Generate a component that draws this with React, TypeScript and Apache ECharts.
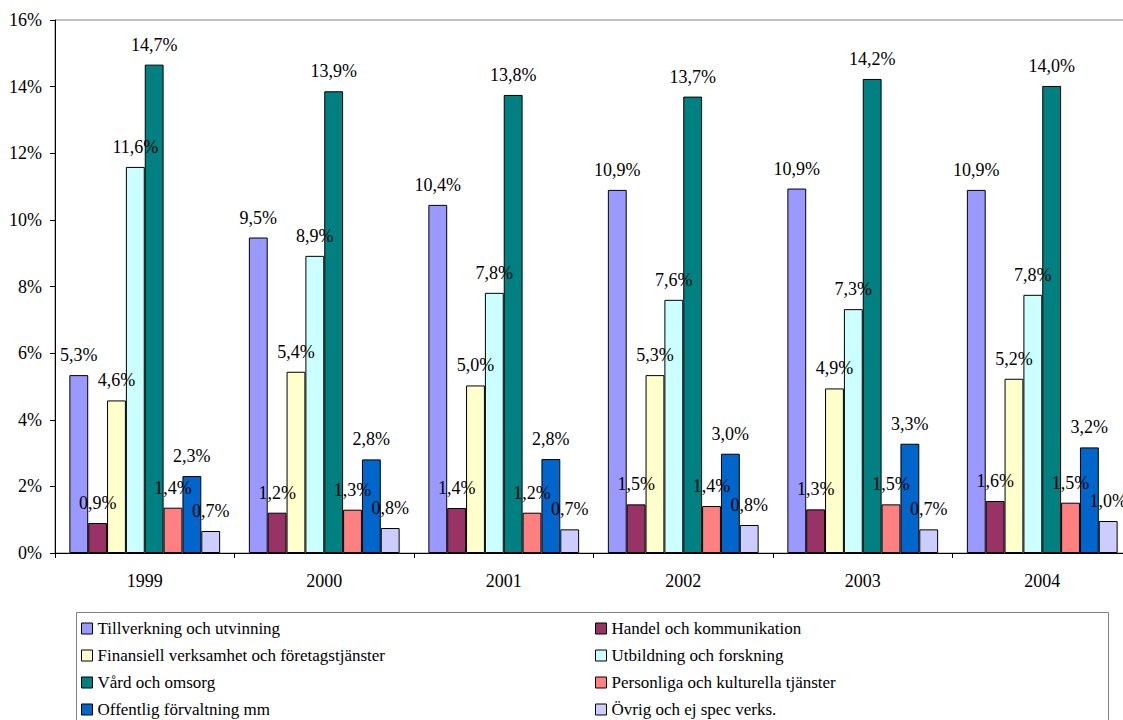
import React, { useEffect, useRef } from "react";
import * as echarts from "echarts";

const years = ["1999", "2000", "2001", "2002", "2003", "2004"];
const seriesNames = [
  "Tillverkning och utvinning",
  "Handel och kommunikation",
  "Finansiell verksamhet och företagstjänster",
  "Utbildning och forskning",
  "Vård och omsorg",
  "Personliga och kulturella tjänster",
  "Offentlig förvaltning mm",
  "Övrig och ej spec verks.",
];
const colors = ["#9999FF", "#993366", "#FFFFCC", "#CCFFFF", "#008080", "#FF8080", "#0066CC", "#CCCCFF"];

const tillverkning = [5.34, 9.47, 10.45, 10.9, 10.94, 10.9];
const handel = [0.9, 1.21, 1.35, 1.46, 1.31, 1.56];
const finansiell = [4.58, 5.44, 5.03, 5.34, 4.94, 5.23];
const utbildning = [11.59, 8.92, 7.81, 7.6, 7.32, 7.75];
const vard = [14.66, 13.86, 13.75, 13.7, 14.23, 14.02];
const personliga = [1.36, 1.3, 1.21, 1.41, 1.46, 1.51];
const offentlig = [2.31, 2.81, 2.82, 2.98, 3.28, 3.17];
const ovrig = [0.66, 0.75, 0.71, 0.84, 0.71, 0.96];

const seriesValues = [tillverkning, handel, finansiell, utbildning, vard, personliga, offentlig, ovrig];
const yTicks = [0, 2, 4, 6, 8, 10, 12, 14, 16];

const FONT = "Liberation Serif";
const FONT_CSS = ".chart-root svg text, .chart-root svg tspan { font-family: 'Liberation Serif', serif !important; }";

export default function App() {
  const ref = useRef<HTMLDivElement>(null);
  useEffect(() => {
    if (!ref.current) return;
    const chart = echarts.init(ref.current, undefined, { renderer: "svg" });
    const legendCommon = {
      orient: "vertical",
      top: 620,
      height: 140,
      padding: 0,
      itemWidth: 11,
      itemHeight: 11,
      itemGap: 10,
      icon: "rect",
      selectedMode: false,
      itemStyle: { borderColor: "#000", borderWidth: 1 },
      textStyle: { fontFamily: FONT, fontSize: 17, color: "#000", lineHeight: 17 },
    };
    const option = {
      animation: false,
      backgroundColor: "#fff",
      textStyle: { fontFamily: FONT },
      grid: {
        left: 55,
        top: 20,
        bottom: 167,
        right: -9,
        outerBoundsMode: "none",
        containLabel: false,
        show: true,
        borderColor: "#808080",
        borderWidth: 1,
        backgroundColor: "transparent",
      },
      xAxis: {
        type: "category",
        data: years,
        axisLine: { lineStyle: { color: "#000", width: 1 } },
        axisTick: { show: true, length: 5, lineStyle: { color: "#000" } },
        axisLabel: { fontFamily: FONT, fontSize: 18, color: "#000", margin: 19 },
      },
      yAxis: {
        type: "value",
        min: yTicks[0],
        max: yTicks[yTicks.length - 1],
        interval: 2,
        axisLine: { show: true, lineStyle: { color: "#000", width: 1 } },
        axisTick: { show: true, length: 5, lineStyle: { color: "#000" } },
        splitLine: { show: false },
        axisLabel: {
          fontFamily: FONT,
          fontSize: 18,
          color: "#000",
          margin: 13,
          formatter: (v: number) => `${v}%`,
        },
      },
      legend: [
        {
          ...legendCommon,
          left: 81,
          data: [seriesNames[0], seriesNames[2], seriesNames[4], seriesNames[6]],
        },
        {
          ...legendCommon,
          left: 595,
          data: [seriesNames[1], seriesNames[3], seriesNames[5], seriesNames[7]],
        },
      ],
      graphic: [
        {
          type: "rect",
          z: -1,
          shape: { x: 76.5, y: 612.5, width: 1032, height: 200 },
          style: { fill: "#fff", stroke: "#808080", lineWidth: 1 },
        },
      ],
      series: seriesNames.map((name, i) => ({
        name,
        type: "bar",
        data: seriesValues[i],
        barGap: "0%",
        barCategoryGap: "16%",
        itemStyle: { color: colors[i], borderColor: "#000", borderWidth: 1 },
        label: {
          show: true,
          position: "top",
          distance: 11,
          fontFamily: FONT,
          fontSize: 18,
          color: "#000",
          formatter: (p: any) => `${Number(p.value).toFixed(1).replace(".", ",")}%`,
        },
      })),
    };
    chart.setOption(option as any);
    return () => chart.dispose();
  }, []);
  return (
    <>
      <style>{FONT_CSS}</style>
      <div
        ref={ref}
        className="chart-root"
        style={{ position: "fixed", left: 0, top: 0, width: 1123, height: 720, background: "#fff" }}
      />
    </>
  );
}
